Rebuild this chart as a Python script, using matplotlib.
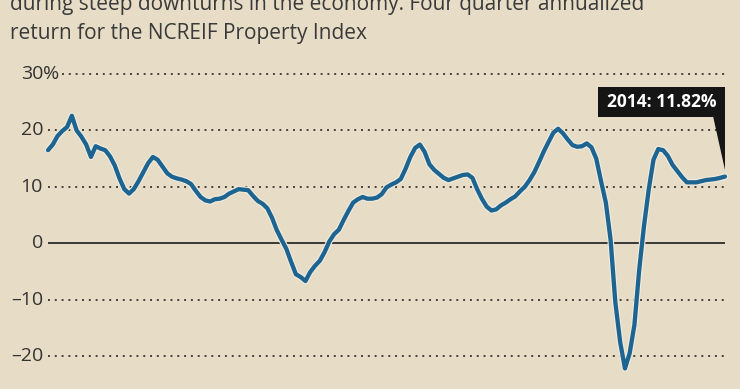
import matplotlib
matplotlib.use("Agg")
import matplotlib.pyplot as plt
import matplotlib.dates as mdates
import matplotlib.transforms as mtransforms
import matplotlib.patheffects as pe
from matplotlib.patches import Polygon, Rectangle
import pandas as pd

# four-quarter annualized return, NCREIF Property Index, 1978Q4 - 2014Q2
quarters = pd.period_range("1978Q4", "2014Q2", freq="Q").to_timestamp()
returns = [
    16.5, 17.5, 19.0, 19.9, 20.6, 22.6, 20.0, 18.9, 17.5, 15.3,
    17.2, 16.8, 16.5, 15.4, 13.8, 11.5, 9.6, 8.8, 9.6, 11.0,
    12.6, 14.2, 15.3, 14.8, 13.6, 12.4, 11.8, 11.5, 11.3, 11.0,
    10.5, 9.3, 8.2, 7.6, 7.4, 7.8, 7.9, 8.2, 8.8, 9.2,
    9.6, 9.5, 9.4, 8.4, 7.5, 7.0, 6.2, 4.5, 2.3, 0.6,
    -1.0, -3.3, -5.5, -6.0, -6.7, -5.1, -4.0, -3.1, -1.6, 0.3,
    1.6, 2.4, 4.1, 5.7, 7.2, 7.8, 8.2, 7.9, 7.9, 8.1,
    8.7, 9.9, 10.4, 10.8, 11.4, 13.2, 15.3, 16.9, 17.5, 16.2,
    14.0, 13.0, 12.3, 11.6, 11.2, 11.5, 11.8, 12.1, 12.2, 11.6,
    9.6, 7.9, 6.5, 5.8, 6.0, 6.7, 7.2, 7.8, 8.3, 9.2,
    10.0, 11.2, 12.6, 14.4, 16.3, 18.0, 19.6, 20.3, 19.5, 18.4,
    17.4, 17.1, 17.2, 17.7, 17.0, 15.0, 11.0, 7.2, 0.6, -10.5,
    -17.5, -22.2, -19.5, -14.5, -4.7, 3.1, 9.5, 14.8, 16.7, 16.5,
    15.5, 13.9, 12.8, 11.7, 10.8, 10.8, 10.8, 11.0, 11.2, 11.3,
    11.4, 11.6, 11.82,
]
yticks = [30, 20, 10, 0, -10, -20]
ylabels = ["30", "20", "10", "0", "\u201310", "\u201320"]
callout = "2014: 11.82%"

BG = "#e7ddc7"
LINE = "#1d6590"
INK = "#333333"

plt.rcParams["font.family"] = ["Open Sans", "DejaVu Sans"]

fig = plt.figure(figsize=(7.4, 3.89), dpi=100, facecolor=BG)
ax = fig.add_axes([48 / 740, 10.4 / 389, 677 / 740, 310.2 / 389])
ax.set_facecolor(BG)
ax.patch.set_alpha(0)
for s in ax.spines.values():
    s.set_visible(False)
ax.set_xticks([])
ax.set_yticks([])

# intro text (first line runs off the top, as in the source graphic)
fig.text(10 / 740, 1 - 10 / 389,
         "during steep downturns in the economy. Four quarter annualized",
         fontsize=15, color="#3a3a3a", va="baseline")
fig.text(10 / 740, 1 - 39 / 389, "return for the NCREIF Property Index",
         fontsize=15, color="#3a3a3a", va="baseline")

# grid lines and labels
for v, lab in zip(yticks, ylabels):
    if v == 0:
        ax.axhline(0, color="#2b2b2b", lw=1.3, zorder=1)
    else:
        xmin = 14 / 677 if v == 30 else 0
        ax.axhline(v, xmin=xmin, color="#45403a", lw=1.4,
                   ls=(0, (1, 2.5)), zorder=1)
    ax.text(-5 / 677, v, lab, transform=ax.get_yaxis_transform(),
            ha="right", va="center", fontsize=14, color=INK)
ax.text(-5 / 677, 30, "%", transform=ax.get_yaxis_transform(),
        ha="left", va="center", fontsize=14, color=INK)

ax.plot(quarters, returns, color=LINE, lw=3.1, solid_joinstyle="round",
        solid_capstyle="round", zorder=3, clip_on=False,
        path_effects=[pe.Stroke(linewidth=4.7, foreground="#f1ece0"),
                      pe.Normal()])

ax.set_xlim(quarters[0], quarters[-1])
ax.set_ylim(-24, 31)

# callout box anchored at last point (offsets in inches)
tip = (fig.dpi_scale_trans +
       mtransforms.ScaledTranslation(mdates.date2num(quarters[-1]),
                                     returns[-1], ax.transData))
fig.add_artist(Polygon([(-0.12, 0.61), (0.0, 0.61), (0.0, 0.07)],
                       closed=True, fc="#151515", ec="none", transform=tip))
fig.add_artist(Rectangle((-1.27, 0.60), 1.27, 0.30, fc="#151515",
                         ec="none", transform=tip))
fig.text(-0.635, 0.75, callout, transform=tip, ha="center", va="center",
         fontsize=12.5, fontweight="bold", color="white")

fig.savefig("out.png", dpi=100, facecolor=BG)
